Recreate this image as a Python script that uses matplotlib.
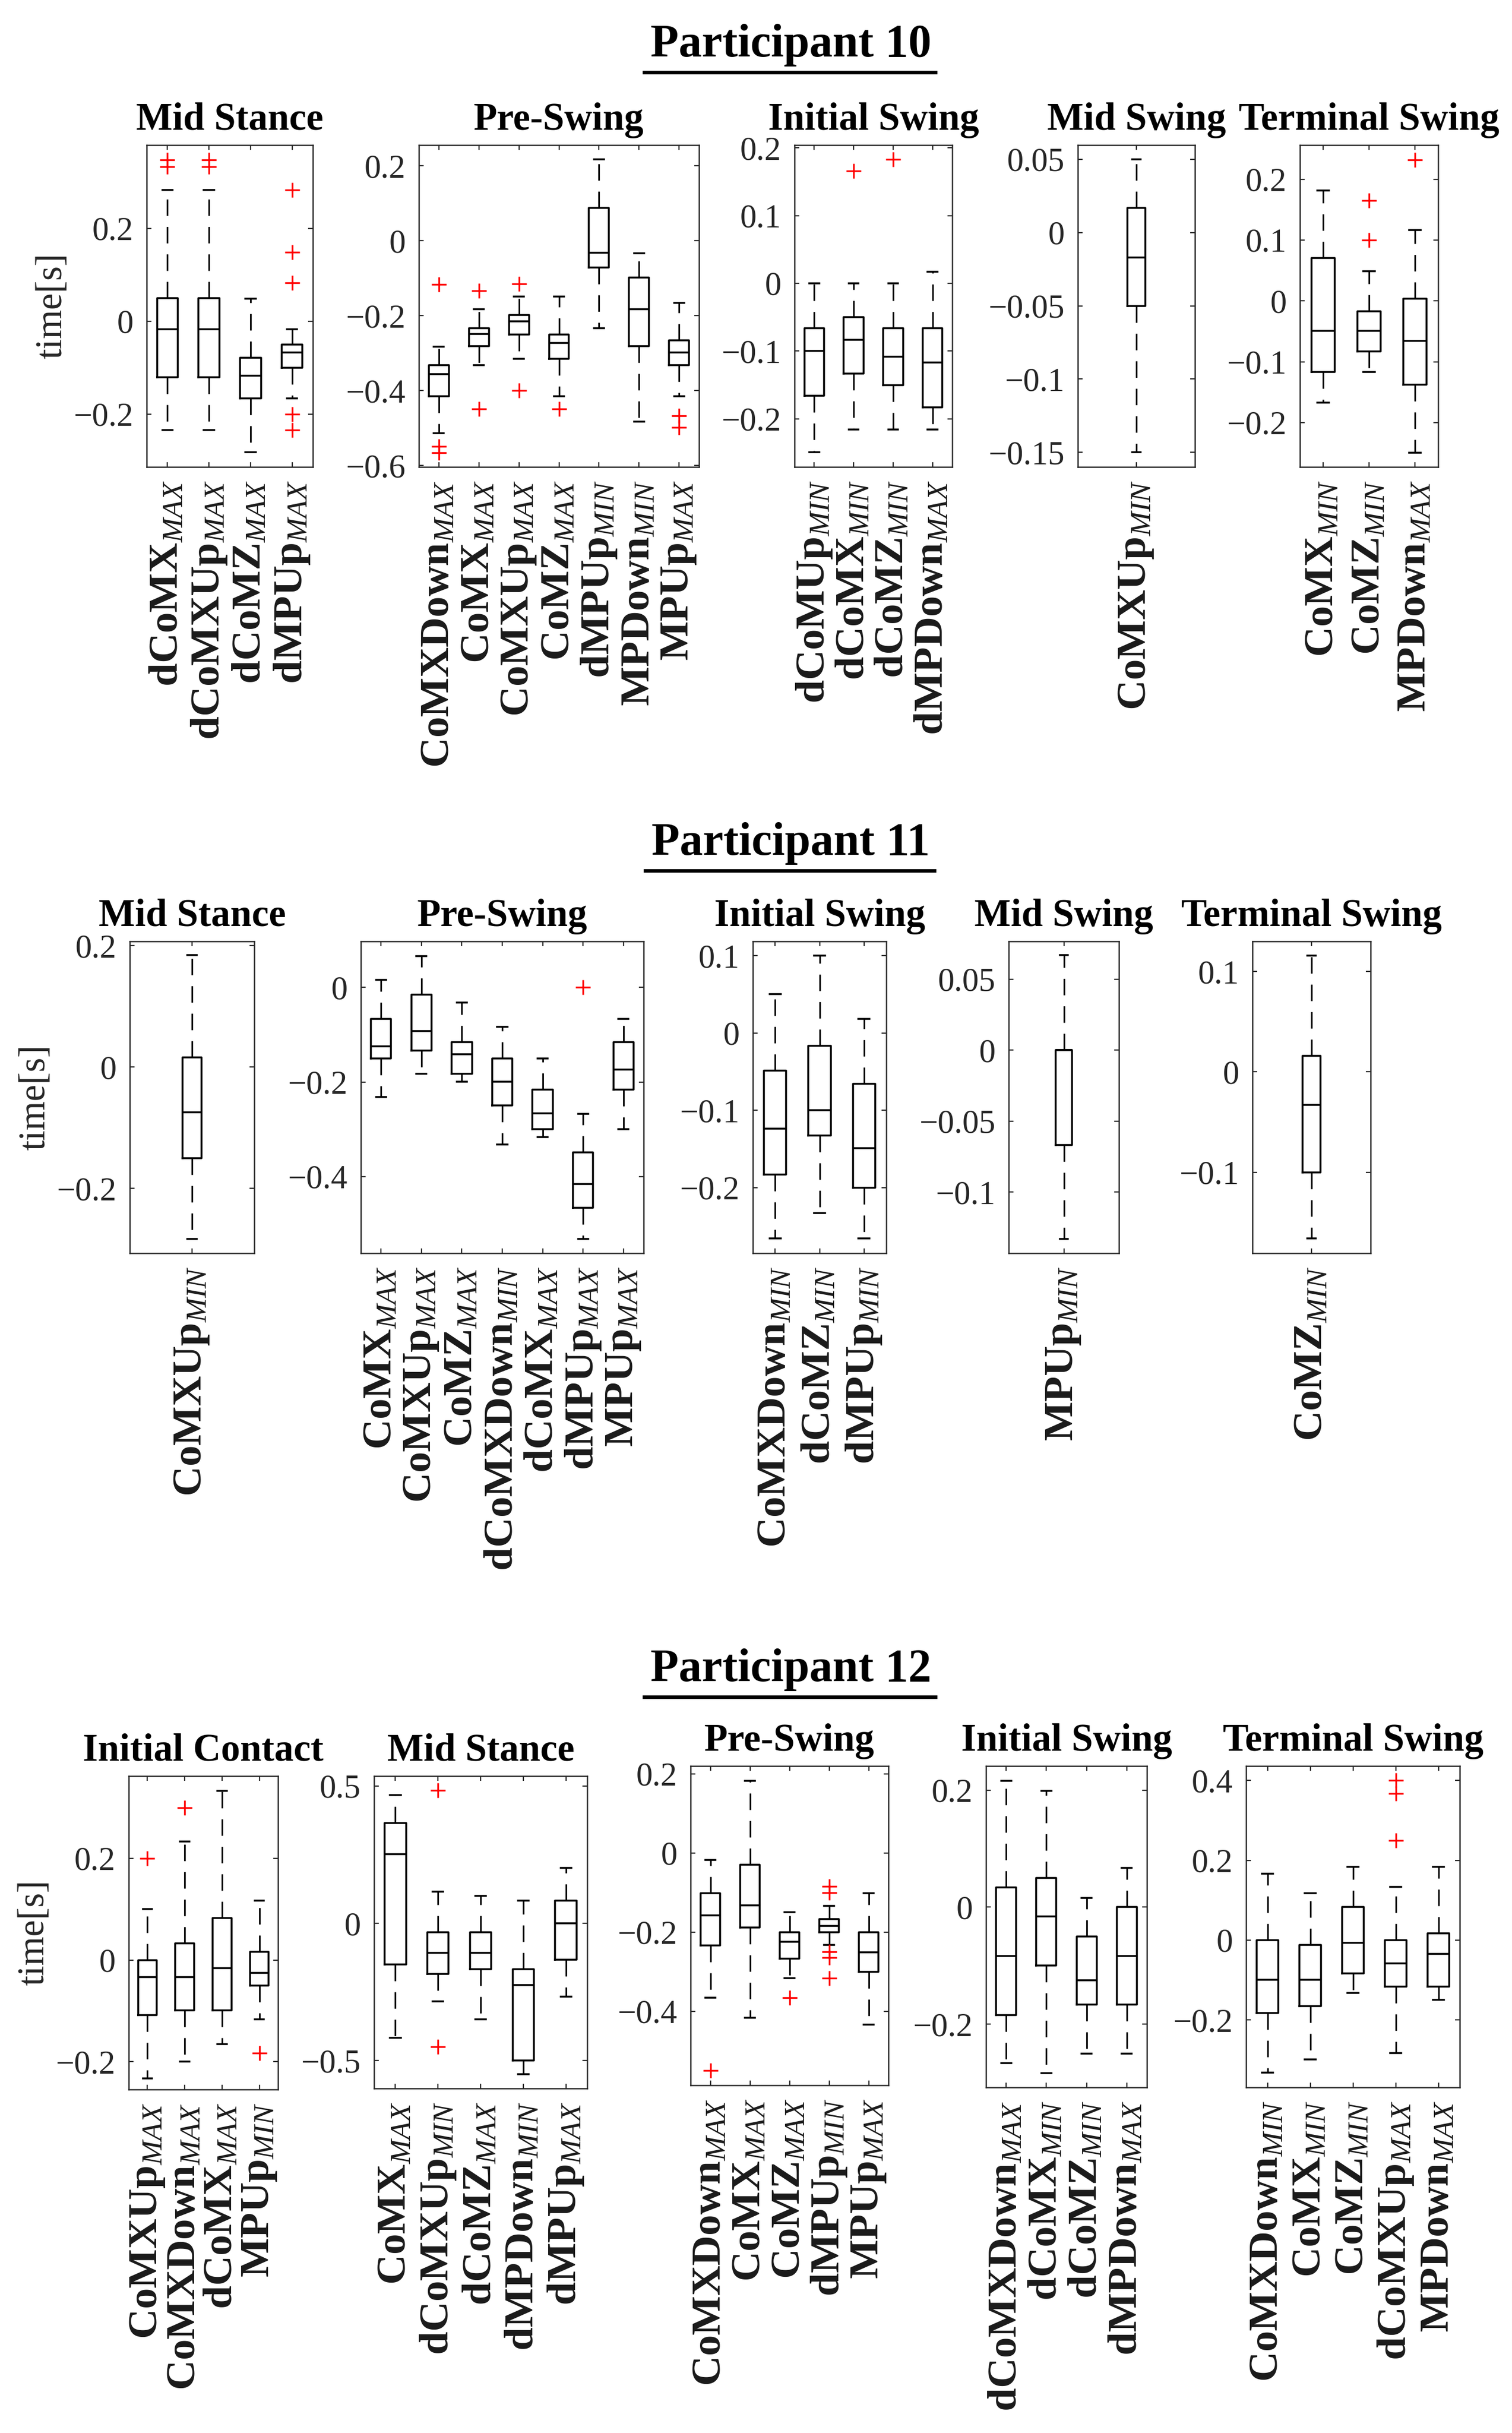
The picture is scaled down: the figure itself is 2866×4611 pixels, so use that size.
import matplotlib
matplotlib.use('Agg')
import matplotlib.pyplot as plt
from matplotlib.lines import Line2D
from matplotlib.ticker import FixedLocator, FuncFormatter

# ---------------- DATA ----------------
# each box: [whisker_low, q1, median, q3, whisker_high]
P10_MS_LABELS = ["dCoMX_MAX", "dCoMXUp_MAX", "dCoMZ_MAX", "dMPUp_MAX"]
P10_MS_STATS = [[-0.234, -0.121, -0.017, 0.049, 0.282],
                [-0.234, -0.121, -0.017, 0.049, 0.282],
                [-0.282, -0.166, -0.117, -0.079, 0.048],
                [-0.166, -0.100, -0.067, -0.050, -0.017]]
P10_MS_FLIERS = [[0.347, 0.332], [0.347, 0.332], [], [0.282, 0.148, 0.082, -0.200, -0.234]]
P10_MS_YTICKS = [-0.2, 0, 0.2]

P10_PS_LABELS = ["CoMXDown_MAX", "CoMX_MAX", "CoMXUp_MAX", "CoMZ_MAX", "dMPUp_MIN", "MPDown_MIN", "MPUp_MAX"]
P10_PS_STATS = [[-0.514, -0.415, -0.356, -0.332, -0.283],
                [-0.332, -0.282, -0.249, -0.233, -0.183],
                [-0.316, -0.250, -0.215, -0.199, -0.149],
                [-0.415, -0.316, -0.273, -0.250, -0.149],
                [-0.233, -0.071, -0.032, 0.088, 0.217],
                [-0.483, -0.282, -0.183, -0.099, -0.033],
                [-0.415, -0.332, -0.299, -0.266, -0.166]]
P10_PS_FLIERS = [[-0.117, -0.549, -0.566], [-0.134, -0.449], [-0.116, -0.400], [-0.449], [], [], [-0.467, -0.498]]
P10_PS_YTICKS = [-0.6, -0.4, -0.2, 0, 0.2]

P10_IS_LABELS = ["dCoMUp_MIN", "dCoMX_MIN", "dCoMZ_MIN", "dMPDown_MAX"]
P10_IS_STATS = [[-0.249, -0.166, -0.100, -0.066, 0.0],
                [-0.216, -0.133, -0.083, -0.050, 0.0],
                [-0.216, -0.150, -0.108, -0.066, 0.0],
                [-0.216, -0.183, -0.117, -0.066, 0.017]]
P10_IS_FLIERS = [[], [0.166], [0.183], []]
P10_IS_YTICKS = [-0.2, -0.1, 0, 0.1, 0.2]

P10_MSW_LABELS = ["CoMXUp_MIN"]
P10_MSW_STATS = [[-0.150, -0.050, -0.017, 0.017, 0.050]]
P10_MSW_FLIERS = [[]]
P10_MSW_YTICKS = [-0.15, -0.1, -0.05, 0, 0.05]

P10_TS_LABELS = ["CoMX_MIN", "CoMZ_MIN", "MPDown_MAX"]
P10_TS_STATS = [[-0.167, -0.117, -0.049, 0.070, 0.181],
                [-0.117, -0.083, -0.049, -0.017, 0.049],
                [-0.250, -0.138, -0.066, 0.004, 0.116]]
P10_TS_FLIERS = [[], [0.165, 0.100], [0.232]]
P10_TS_YTICKS = [-0.2, -0.1, 0, 0.1, 0.2]

P11_MS_LABELS = ["CoMXUp_MIN"]
P11_MS_STATS = [[-0.283, -0.150, -0.075, 0.016, 0.184]]
P11_MS_FLIERS = [[]]
P11_MS_YTICKS = [-0.2, 0, 0.2]

P11_PS_LABELS = ["CoMX_MAX", "CoMXUp_MAX", "CoMZ_MAX", "dCoMXDown_MIN", "dCoMX_MAX", "dMPUp_MAX", "MPUp_MAX"]
P11_PS_STATS = [[-0.232, -0.150, -0.124, -0.066, 0.016],
                [-0.183, -0.133, -0.092, -0.015, 0.066],
                [-0.199, -0.183, -0.141, -0.116, -0.032],
                [-0.332, -0.249, -0.199, -0.150, -0.083],
                [-0.316, -0.300, -0.266, -0.216, -0.150],
                [-0.532, -0.466, -0.416, -0.349, -0.267],
                [-0.300, -0.216, -0.174, -0.116, -0.066]]
P11_PS_FLIERS = [[], [], [], [], [], [0.0], []]
P11_PS_YTICKS = [-0.4, -0.2, 0]

P11_IS_LABELS = ["CoMXDown_MIN", "dCoMZ_MIN", "dMPUp_MIN"]
P11_IS_STATS = [[-0.266, -0.183, -0.124, -0.049, 0.050],
                [-0.233, -0.133, -0.100, -0.017, 0.100],
                [-0.266, -0.200, -0.149, -0.066, 0.018]]
P11_IS_FLIERS = [[], [], []]
P11_IS_YTICKS = [-0.2, -0.1, 0, 0.1]

P11_MSW_LABELS = ["MPUp_MIN"]
P11_MSW_STATS = [[-0.133, -0.067, 0.0, 0.0, 0.067]]
P11_MSW_FLIERS = [[]]
P11_MSW_YTICKS = [-0.1, -0.05, 0, 0.05]

P11_TS_LABELS = ["CoMZ_MIN"]
P11_TS_STATS = [[-0.166, -0.100, -0.033, 0.016, 0.116]]
P11_TS_FLIERS = [[]]
P11_TS_YTICKS = [-0.1, 0, 0.1]

P12_IC_LABELS = ["CoMXUp_MAX", "CoMXDown_MAX", "dCoMX_MAX", "MPUp_MIN"]
P12_IC_STATS = [[-0.233, -0.109, -0.034, 0.0, 0.100],
                [-0.200, -0.099, -0.034, 0.033, 0.233],
                [-0.166, -0.099, -0.016, 0.083, 0.333],
                [-0.117, -0.050, -0.025, 0.016, 0.117]]
P12_IC_FLIERS = [[0.200], [0.300], [], [-0.183]]
P12_IC_YTICKS = [-0.2, 0, 0.2]

P12_MS_LABELS = ["CoMX_MAX", "dCoMXUp_MIN", "dCoMZ_MAX", "dMPDown_MIN", "dMPUp_MAX"]
P12_MS_STATS = [[-0.417, -0.150, 0.252, 0.366, 0.466],
                [-0.284, -0.184, -0.108, -0.033, 0.116],
                [-0.350, -0.167, -0.108, -0.033, 0.100],
                [-0.549, -0.499, -0.224, -0.167, 0.083],
                [-0.267, -0.133, 0.0, 0.083, 0.201]]
P12_MS_FLIERS = [[], [0.485, -0.449], [], [], []]
P12_MS_YTICKS = [-0.5, 0, 0.5]

P12_PS_LABELS = ["CoMXDown_MAX", "CoMX_MAX", "CoMZ_MAX", "dMPUp_MIN", "MPUp_MAX"]
P12_PS_STATS = [[-0.366, -0.234, -0.158, -0.101, -0.017],
                [-0.417, -0.188, -0.133, -0.029, 0.183],
                [-0.317, -0.267, -0.225, -0.200, -0.150],
                [-0.233, -0.201, -0.184, -0.167, -0.134],
                [-0.434, -0.300, -0.251, -0.201, -0.101]]
P12_PS_FLIERS = [[-0.550], [], [-0.366], [-0.084, -0.100, -0.250, -0.265, -0.317], []]
P12_PS_YTICKS = [-0.4, -0.2, 0, 0.2]

P12_IS_LABELS = ["dCoMXDown_MAX", "dCoMX_MIN", "dCoMZ_MIN", "dMPDown_MAX"]
P12_IS_STATS = [[-0.266, -0.184, -0.083, 0.034, 0.216],
                [-0.283, -0.100, -0.016, 0.050, 0.199],
                [-0.250, -0.166, -0.125, -0.050, 0.016],
                [-0.250, -0.166, -0.083, 0.0, 0.067]]
P12_IS_FLIERS = [[], [], [], []]
P12_IS_YTICKS = [-0.2, 0, 0.2]

P12_TS_LABELS = ["CoMXDown_MIN", "CoMX_MIN", "CoMZ_MIN", "dCoMXUp_MAX", "MPDown_MAX"]
P12_TS_STATS = [[-0.332, -0.183, -0.100, 0.0, 0.166],
                [-0.299, -0.166, -0.100, -0.012, 0.117],
                [-0.132, -0.084, -0.007, 0.083, 0.183],
                [-0.283, -0.117, -0.058, 0.0, 0.133],
                [-0.150, -0.117, -0.034, 0.017, 0.183]]
P12_TS_FLIERS = [[], [], [], [0.400, 0.367, 0.249], []]
P12_TS_YTICKS = [-0.2, 0, 0.2, 0.4]

PARTICIPANTS = ["Participant 10", "Participant 11", "Participant 12"]

# ---------------- LAYOUT ----------------
W, H, DPI = 2866, 4611, 300

# (participant index, title, labels, stats, fliers, yticks, ylim, (left, top, right, bottom) px)
PANELS = [
    (0, "Mid Stance", P10_MS_LABELS, P10_MS_STATS, P10_MS_FLIERS, P10_MS_YTICKS, (-0.314, 0.379), (278, 275, 593, 885)),
    (0, "Pre-Swing", P10_PS_LABELS, P10_PS_STATS, P10_PS_FLIERS, P10_PS_YTICKS, (-0.604, 0.255), (794, 275, 1325, 885)),
    (0, "Initial Swing", P10_IS_LABELS, P10_IS_STATS, P10_IS_FLIERS, P10_IS_YTICKS, (-0.271, 0.204), (1506, 275, 1805, 885)),
    (0, "Mid Swing", P10_MSW_LABELS, P10_MSW_STATS, P10_MSW_FLIERS, P10_MSW_YTICKS, (-0.160, 0.0597), (2043, 275, 2265, 885)),
    (0, "Terminal Swing", P10_TS_LABELS, P10_TS_STATS, P10_TS_FLIERS, P10_TS_YTICKS, (-0.273, 0.256), (2464, 275, 2726, 885)),
    (1, "Mid Stance", P11_MS_LABELS, P11_MS_STATS, P11_MS_FLIERS, P11_MS_YTICKS, (-0.3066, 0.207), (246, 1784, 482, 2375)),
    (1, "Pre-Swing", P11_PS_LABELS, P11_PS_STATS, P11_PS_FLIERS, P11_PS_YTICKS, (-0.562, 0.0976), (684, 1784, 1220, 2375)),
    (1, "Initial Swing", P11_IS_LABELS, P11_IS_STATS, P11_IS_FLIERS, P11_IS_YTICKS, (-0.285, 0.1185), (1427, 1784, 1680, 2375)),
    (1, "Mid Swing", P11_MSW_LABELS, P11_MSW_STATS, P11_MSW_FLIERS, P11_MSW_YTICKS, (-0.143, 0.0766), (1912, 1784, 2121, 2375)),
    (1, "Terminal Swing", P11_TS_LABELS, P11_TS_STATS, P11_TS_FLIERS, P11_TS_YTICKS, (-0.1806, 0.130), (2374, 1784, 2598, 2375)),
    (2, "Initial Contact", P12_IC_LABELS, P12_IC_STATS, P12_IC_FLIERS, P12_IC_YTICKS, (-0.255, 0.362), (244, 3366, 527, 3960)),
    (2, "Mid Stance", P12_MS_LABELS, P12_MS_STATS, P12_MS_FLIERS, P12_MS_YTICKS, (-0.601, 0.536), (709, 3366, 1113, 3958)),
    (2, "Pre-Swing", P12_PS_LABELS, P12_PS_STATS, P12_PS_FLIERS, P12_PS_YTICKS, (-0.5875, 0.220), (1309, 3347, 1684, 3952)),
    (2, "Initial Swing", P12_IS_LABELS, P12_IS_STATS, P12_IS_FLIERS, P12_IS_YTICKS, (-0.3077, 0.241), (1869, 3347, 2174, 3956)),
    (2, "Terminal Swing", P12_TS_LABELS, P12_TS_STATS, P12_TS_FLIERS, P12_TS_YTICKS, (-0.369, 0.436), (2362, 3347, 2767, 3956)),
]
# participant heading baselines (px from top)
HEAD_BASE = [107, 1620, 3186]
HEAD_X = 1499

plt.rcParams['font.family'] = ['Liberation Serif', 'DejaVu Serif']
plt.rcParams['mathtext.fontset'] = 'custom'
plt.rcParams['mathtext.rm'] = 'Liberation Serif'
plt.rcParams['mathtext.it'] = 'Liberation Serif:italic'
plt.rcParams['mathtext.bf'] = 'Liberation Serif:bold'
plt.rcParams['lines.scale_dashes'] = False

SPINE = '#262626'


def mlabel(s):
    name, sub = s.split('_')
    return r'$\mathbf{%s}_{%s}$' % (name, sub)


def yfmt(v, pos):
    s = f'{v:g}'
    return s.replace('-', '\u2212')


fig = plt.figure(figsize=(W / DPI, H / DPI), dpi=DPI)
fig.patch.set_facecolor('white')

first_in_row = set()
for (pi, title, labels, stats, fliers, yticks, ylim, (l, t, r, b)) in PANELS:
    ax = fig.add_axes([l / W, 1 - b / H, (r - l) / W, (b - t) / H])
    n = len(labels)
    bxstats = []
    for lab, st, fl in zip(labels, stats, fliers):
        bxstats.append(dict(whislo=st[0], q1=st[1], med=st[2], q3=st[3], whishi=st[4],
                            fliers=fl, label=mlabel(lab)))
    width = 0.5 if n > 1 else 0.15
    ax.bxp(bxstats, positions=list(range(1, n + 1)), widths=width, showfliers=True,
           boxprops=dict(color='k', lw=0.85),
           whiskerprops=dict(color='k', lw=0.75, linestyle=(0, (7.5, 5))),
           capprops=dict(color='k', lw=0.85),
           medianprops=dict(color='k', lw=0.85),
           flierprops=dict(marker='+', markeredgecolor='red', markerfacecolor='none',
                           markersize=6.5, markeredgewidth=0.8, linestyle='none'))
    ax.set_xlim(0.5, n + 0.5)
    ax.set_ylim(*ylim)
    ax.yaxis.set_major_locator(FixedLocator(yticks))
    ax.yaxis.set_major_formatter(FuncFormatter(yfmt))
    ax.set_xticks(list(range(1, n + 1)))
    ax.set_xticklabels([mlabel(s) for s in labels], rotation=90, fontsize=19, color='#1a1a1a')
    ax.tick_params(axis='both', direction='in', top=True, right=True, length=2.2,
                   width=0.55, color=SPINE)
    ax.tick_params(axis='y', labelsize=15, labelcolor=SPINE, pad=6)
    ax.tick_params(axis='x', pad=6)
    for sp in ax.spines.values():
        sp.set_color(SPINE)
        sp.set_linewidth(0.6)
    ax.set_title(title, fontsize=17.5, fontweight='bold', pad=7)
    if pi not in first_in_row:
        first_in_row.add(pi)
        ax.set_ylabel('time[s]', fontsize=17, color=SPINE, labelpad=2)

renderer = fig.canvas.get_renderer()
for pi, name in enumerate(PARTICIPANTS):
    yb = 1 - HEAD_BASE[pi] / H
    txt = fig.text(HEAD_X / W, yb, name, ha='center', va='baseline', fontsize=21,
                   fontweight='bold', color='k')
    bb = txt.get_window_extent(renderer=renderer)
    x0 = (bb.x0 - 12) / W
    x1 = (bb.x1 + 8) / W
    yl = 1 - (HEAD_BASE[pi] + 30) / H
    fig.add_artist(Line2D([x0, x1], [yl, yl], transform=fig.transFigure, color='k', lw=1.6))

fig.savefig('out.png', dpi=DPI, facecolor='white')
